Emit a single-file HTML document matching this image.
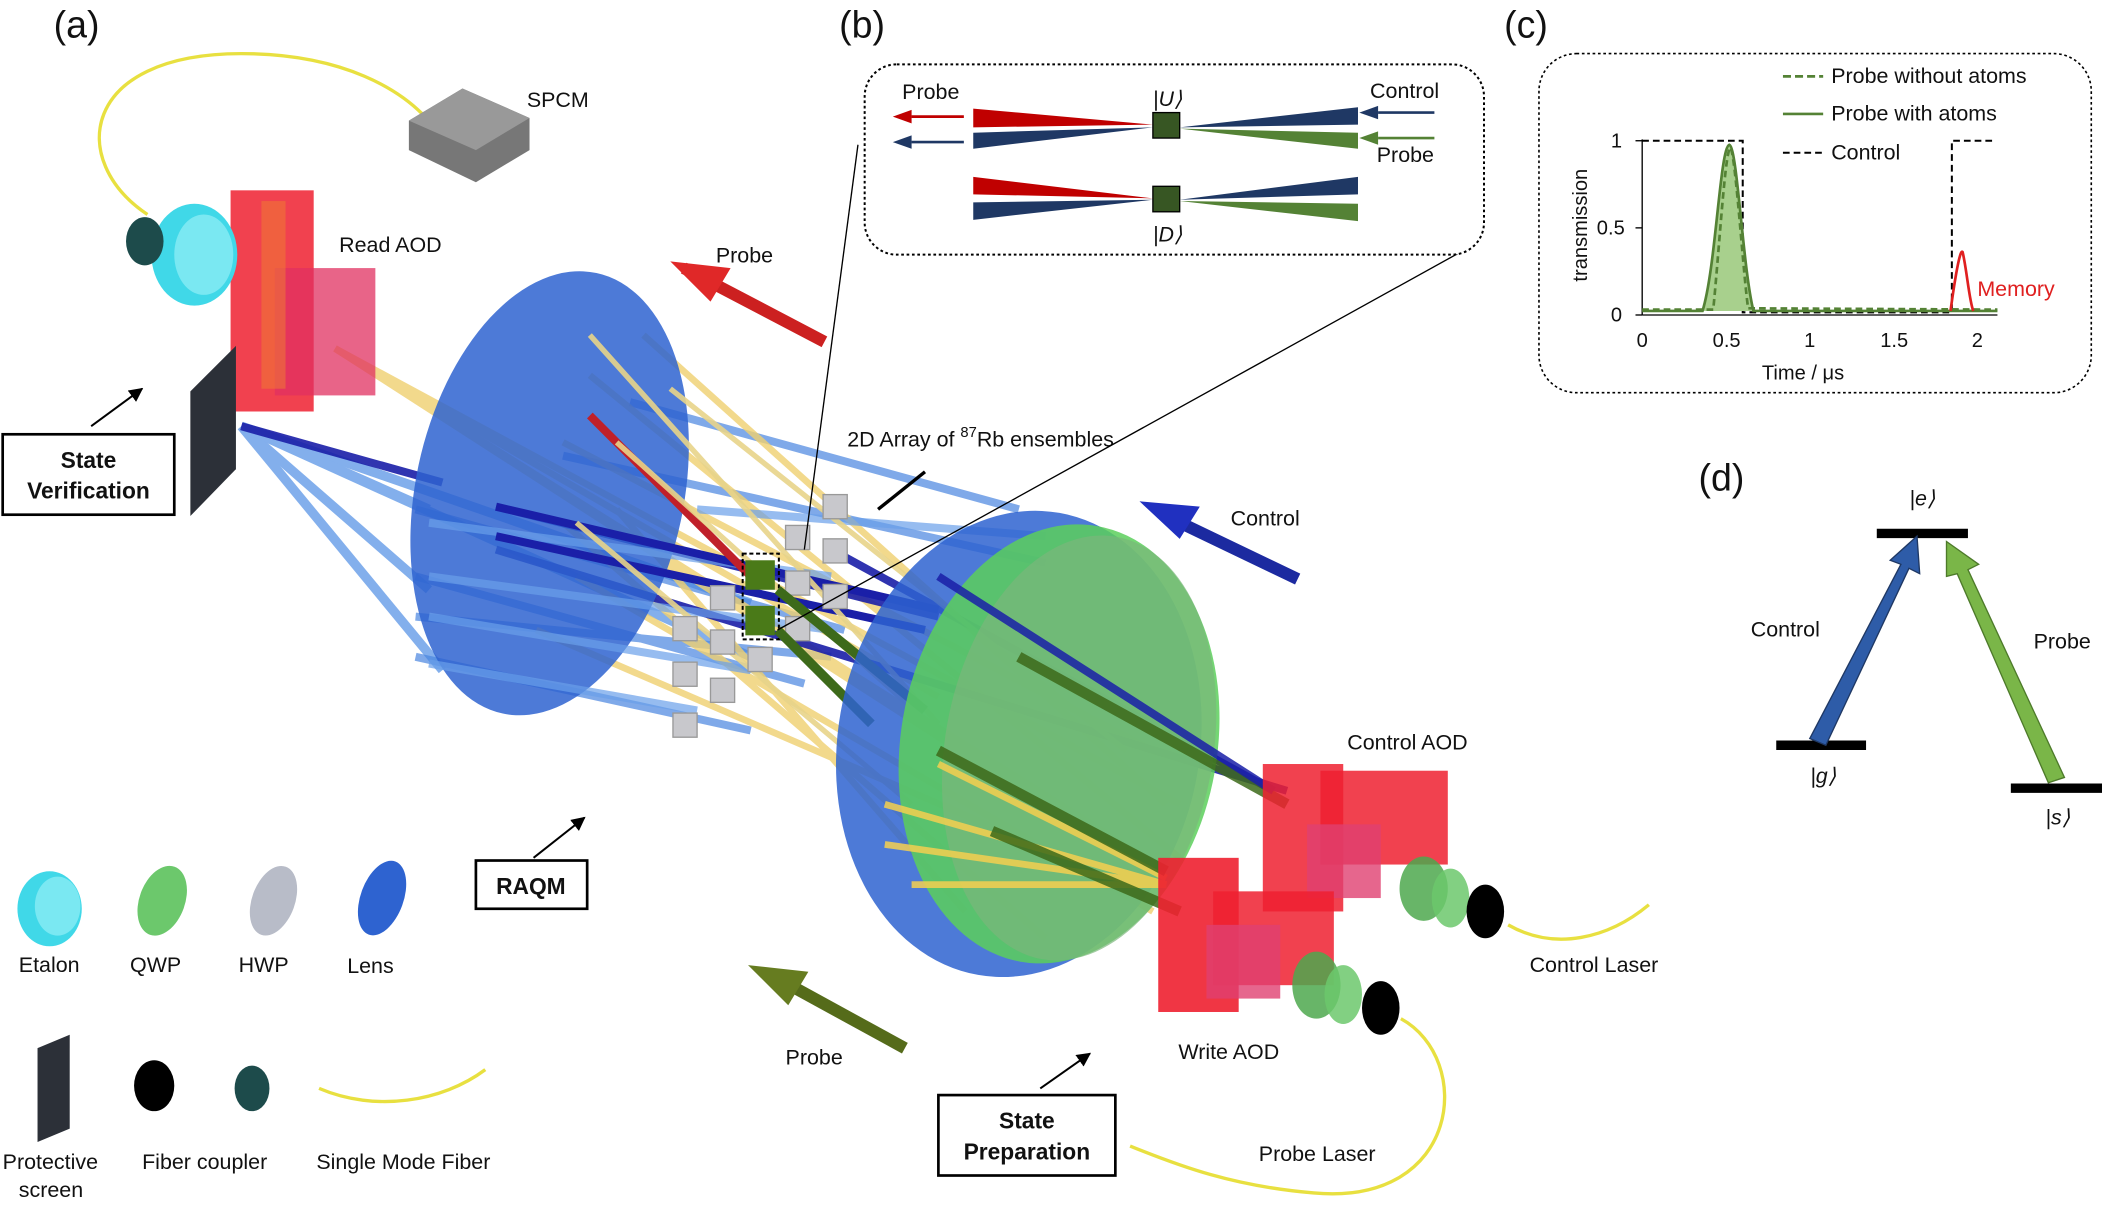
<!DOCTYPE html>
<html><head><meta charset="utf-8"><style>
html,body{margin:0;padding:0;background:#fff;}
svg{display:block;}
text{font-family:"Liberation Sans",sans-serif;fill:#111;}
</style></head><body>
<svg width="2102" height="1205" viewBox="0 0 1568 899" preserveAspectRatio="none" xmlns="http://www.w3.org/2000/svg">
<defs>
<marker id="ah" viewBox="0 0 10 10" refX="9" refY="5" markerWidth="7" markerHeight="7" orient="auto"><path d="M0,0L10,5L0,10z" fill="#000"/></marker>
</defs>
<rect width="1568" height="899" fill="#fff"/>
<!-- panel labels -->
<text x="40" y="28" font-size="28">(a)</text>
<text x="626" y="28" font-size="28">(b)</text>
<text x="1122" y="28" font-size="28">(c)</text>
<text x="1267" y="366" font-size="28">(d)</text>

<!-- fiber SPCM -->
<path d="M110,160 C50,120 60,40 180,40 C260,40 300,70 315,85" stroke="#e8e040" stroke-width="2.5" fill="none"/>
<polygon points="305,90 345,66 395,88 395,112 355,136 305,112" fill="#777"/>
<polygon points="305,90 345,66 395,88 355,112" fill="#999"/>
<text x="393" y="80" font-size="16">SPCM</text>

<!-- beams from screen -->
<g stroke="#5a95e6" stroke-width="7" opacity="0.75">
<line x1="180" y1="318" x2="560" y2="450"/><line x1="180" y1="318" x2="560" y2="490"/>
<line x1="180" y1="318" x2="330" y2="500"/><line x1="180" y1="318" x2="320" y2="440"/>
<line x1="180" y1="318" x2="320" y2="380"/>
</g>
<g stroke="#4a86e0" stroke-width="6" opacity="0.7">
<line x1="310" y1="380" x2="630" y2="470"/><line x1="310" y1="430" x2="600" y2="510"/>
<line x1="310" y1="490" x2="560" y2="545"/><line x1="310" y1="460" x2="620" y2="490"/>
<line x1="420" y1="340" x2="780" y2="420"/><line x1="470" y1="300" x2="760" y2="380"/>
</g>
<g stroke="#f0d070" stroke-width="5" opacity="0.8">
<line x1="250" y1="260" x2="870" y2="650"/><line x1="250" y1="260" x2="840" y2="640"/>
<line x1="250" y1="260" x2="880" y2="600"/><line x1="250" y1="260" x2="820" y2="620"/>
<line x1="250" y1="260" x2="700" y2="520"/><line x1="420" y1="390" x2="780" y2="700"/>
<line x1="430" y1="430" x2="860" y2="680"/><line x1="420" y1="330" x2="860" y2="560"/>
<line x1="440" y1="280" x2="880" y2="640"/><line x1="460" y1="380" x2="720" y2="680"/>
<line x1="480" y1="250" x2="870" y2="600"/><line x1="400" y1="470" x2="840" y2="660"/>
</g>
<!-- dark blue -->
<g stroke="#1a1fa8" stroke-width="6" opacity="0.9">
<line x1="180" y1="318" x2="330" y2="360"/>
<line x1="370" y1="378" x2="700" y2="460"/><line x1="370" y1="410" x2="960" y2="590"/>
<line x1="620" y1="410" x2="950" y2="590"/>
</g>
<!-- first lens -->
<ellipse cx="410" cy="368" rx="100" ry="168" transform="rotate(12 410 368)" fill="#2e63d0" opacity="0.85"/>
<!-- beams over lens -->
<g stroke="#6aa0ea" stroke-width="6" opacity="0.7">
<line x1="320" y1="390" x2="620" y2="430"/><line x1="320" y1="430" x2="620" y2="470"/>
<line x1="320" y1="460" x2="560" y2="500"/><line x1="320" y1="495" x2="520" y2="530"/>
<line x1="520" y1="380" x2="780" y2="400"/>
</g>
<g stroke="#1a1fa8" stroke-width="6"><line x1="370" y1="378" x2="700" y2="455"/><line x1="370" y1="400" x2="690" y2="470"/></g>
<line x1="440" y1="310" x2="560" y2="430" stroke="#c0202a" stroke-width="6"/>
<g stroke="#e8d48a" stroke-width="4" opacity="0.9">
<line x1="440" y1="250" x2="700" y2="540"/><line x1="460" y1="330" x2="760" y2="600"/>
<line x1="430" y1="390" x2="680" y2="600"/><line x1="500" y1="290" x2="840" y2="560"/>
</g>
<!-- array cubes -->
<g fill="#c8c8cc" stroke="#999" stroke-width="1">
<rect x="614" y="369" width="18" height="18"/><rect x="586" y="392" width="18" height="18"/><rect x="614" y="402" width="18" height="18"/>
<rect x="586" y="426" width="18" height="18"/><rect x="614" y="436" width="18" height="18"/>
<rect x="530" y="437" width="18" height="18"/><rect x="502" y="460" width="18" height="18"/>
<rect x="530" y="470" width="18" height="18"/><rect x="558" y="483" width="18" height="18"/>
<rect x="502" y="494" width="18" height="18"/><rect x="530" y="506" width="18" height="18"/>
<rect x="502" y="532" width="18" height="18"/><rect x="586" y="460" width="18" height="18"/>
</g>
<rect x="556" y="418" width="22" height="22" fill="#4a7a18"/>
<rect x="556" y="452" width="22" height="22" fill="#4a7a18"/>
<rect x="554" y="413" width="27" height="64" fill="none" stroke="#000" stroke-width="1.5" stroke-dasharray="3,2"/>
<g stroke="#3d6a1a" stroke-width="7"><line x1="580" y1="440" x2="690" y2="530"/><line x1="580" y1="470" x2="650" y2="540"/></g>
<line x1="655" y1="380" x2="690" y2="352" stroke="#000" stroke-width="2.5"/>
<text x="632" y="333" font-size="16">2D Array of <tspan font-size="11" dy="-7">87</tspan><tspan dy="7">Rb ensembles</tspan></text>

<!-- second lens -->
<ellipse cx="760" cy="555" rx="135" ry="175" transform="rotate(10 760 555)" fill="#2e63d0" opacity="0.85"/>
<ellipse cx="790" cy="555" rx="118" ry="165" transform="rotate(10 790 555)" fill="#5ccf5c" opacity="0.85"/>
<ellipse cx="805" cy="558" rx="100" ry="160" transform="rotate(10 805 558)" fill="#7ab77a" opacity="0.7"/>
<g stroke="#f5d050" stroke-width="5" opacity="0.85">
<line x1="660" y1="600" x2="870" y2="660"/><line x1="660" y1="630" x2="870" y2="660"/>
<line x1="680" y1="660" x2="870" y2="660"/><line x1="700" y1="570" x2="870" y2="655"/>
</g>
<g stroke="#3d6a1a" stroke-width="8" opacity="0.85"><line x1="700" y1="560" x2="870" y2="650"/><line x1="740" y1="620" x2="880" y2="680"/><line x1="760" y1="490" x2="960" y2="600"/></g>
<g stroke="#1a1fa8" stroke-width="6" opacity="0.85"><line x1="700" y1="430" x2="950" y2="590"/></g>

<!-- Read AOD -->
<rect x="172" y="142" width="62" height="165" fill="#ee2030" opacity="0.85"/>
<rect x="205" y="200" width="75" height="95" fill="#e03060" opacity="0.75"/>
<rect x="195" y="150" width="18" height="140" fill="#f08030" opacity="0.5"/>
<ellipse cx="145" cy="190" rx="32" ry="38" fill="#40d8e8"/>
<ellipse cx="152" cy="190" rx="22" ry="30" fill="#7ae8f2"/>
<ellipse cx="108" cy="180" rx="14" ry="18" fill="#1d4b4b"/>
<text x="253" y="188" font-size="16">Read AOD</text>
<!-- screen -->
<polygon points="142,292 176,258 176,350 142,385" fill="#2c3038"/>
<!-- Probe arrow top -->
<line x1="510" y1="200" x2="615" y2="255" stroke="#cc2020" stroke-width="9"/>
<polygon points="500,195 545,200 530,225" fill="#e02828"/>
<text x="534" y="196" font-size="16">Probe</text>
<!-- Control arrow -->
<line x1="870" y1="385" x2="968" y2="432" stroke="#1c2aa0" stroke-width="9"/>
<polygon points="850,374 895,378 880,402" fill="#2030c0"/>
<text x="918" y="392" font-size="16">Control</text>
<!-- Probe arrow bottom -->
<line x1="580" y1="730" x2="675" y2="782" stroke="#556b1a" stroke-width="9"/>
<polygon points="558,720 603,725 588,750" fill="#667c20"/>
<text x="586" y="794" font-size="16">Probe</text>

<!-- Control AOD / Write AOD -->
<rect x="942" y="570" width="60" height="110" fill="#ee2030" opacity="0.85"/>
<rect x="985" y="575" width="95" height="70" fill="#ee2030" opacity="0.85"/>
<rect x="975" y="615" width="55" height="55" fill="#e04070" opacity="0.8"/>
<rect x="864" y="640" width="60" height="115" fill="#ee2030" opacity="0.9"/>
<rect x="905" y="665" width="90" height="70" fill="#ee2030" opacity="0.85"/>
<rect x="900" y="690" width="55" height="55" fill="#e04070" opacity="0.8"/>
<ellipse cx="1062" cy="663" rx="18" ry="24" fill="#4da84d" opacity="0.85"/>
<ellipse cx="1082" cy="670" rx="14" ry="22" fill="#6cc86c" opacity="0.85"/>
<ellipse cx="1108" cy="680" rx="14" ry="20" fill="#000"/>
<ellipse cx="982" cy="735" rx="18" ry="25" fill="#4da84d" opacity="0.85"/>
<ellipse cx="1002" cy="742" rx="14" ry="22" fill="#6cc86c" opacity="0.85"/>
<ellipse cx="1030" cy="752" rx="14" ry="20" fill="#000"/>
<path d="M1125,690 C1160,710 1200,700 1230,675" stroke="#e8e040" stroke-width="2.5" fill="none"/>
<path d="M1045,760 C1100,790 1090,900 980,890 C920,885 880,870 843,855" stroke="#e8e040" stroke-width="2.5" fill="none"/>
<text x="1005" y="559" font-size="16">Control AOD</text>
<text x="1141" y="725" font-size="16">Control Laser</text>
<text x="879" y="790" font-size="16">Write AOD</text>
<text x="939" y="866" font-size="16">Probe Laser</text>

<!-- boxes -->
<rect x="2" y="324" width="128" height="60" fill="#fff" stroke="#000" stroke-width="2"/>
<text x="66" y="349" font-size="17" font-weight="bold" text-anchor="middle">State</text>
<text x="66" y="372" font-size="17" font-weight="bold" text-anchor="middle">Verification</text>
<line x1="68" y1="318" x2="106" y2="290" stroke="#000" stroke-width="1.5" marker-end="url(#ah)"/>
<rect x="355" y="642" width="83" height="36" fill="#fff" stroke="#000" stroke-width="2"/>
<text x="396" y="667" font-size="17" font-weight="bold" text-anchor="middle">RAQM</text>
<line x1="398" y1="640" x2="436" y2="610" stroke="#000" stroke-width="1.5" marker-end="url(#ah)"/>
<rect x="700" y="817" width="132" height="60" fill="#fff" stroke="#000" stroke-width="2"/>
<text x="766" y="842" font-size="17" font-weight="bold" text-anchor="middle">State</text>
<text x="766" y="865" font-size="17" font-weight="bold" text-anchor="middle">Preparation</text>
<line x1="776" y1="812" x2="813" y2="786" stroke="#000" stroke-width="1.5" marker-end="url(#ah)"/>

<!-- legend -->
<ellipse cx="37" cy="678" rx="24" ry="28" fill="#40d8e8"/><ellipse cx="43" cy="676" rx="17" ry="22" fill="#7ae8f2"/>
<ellipse cx="121" cy="672" rx="17" ry="27" transform="rotate(20 121 672)" fill="#6cc86c"/>
<ellipse cx="204" cy="672" rx="16" ry="27" transform="rotate(20 204 672)" fill="#b8bcc8"/>
<ellipse cx="285" cy="670" rx="16" ry="29" transform="rotate(20 285 670)" fill="#2e63d0"/>
<text x="14" y="725" font-size="16">Etalon</text><text x="97" y="725" font-size="16">QWP</text>
<text x="178" y="725" font-size="16">HWP</text><text x="259" y="726" font-size="16">Lens</text>
<polygon points="28,782 52,772 52,842 28,852" fill="#2c3038"/>
<ellipse cx="115" cy="810" rx="15" ry="19" fill="#000"/>
<ellipse cx="188" cy="812" rx="13" ry="17" fill="#1d4b4b"/>
<path d="M238,812 C280,830 330,822 362,798" stroke="#e8e040" stroke-width="2.5" fill="none"/>
<text x="2" y="872" font-size="16">Protective</text><text x="14" y="893" font-size="16">screen</text>
<text x="106" y="872" font-size="16">Fiber coupler</text><text x="236" y="872" font-size="16">Single Mode Fiber</text>

<!-- panel b -->
<line x1="640" y1="108" x2="600" y2="410" stroke="#000" stroke-width="1"/>
<line x1="1095" y1="185" x2="580" y2="470" stroke="#000" stroke-width="1"/>
<rect x="645" y="48" width="462" height="142" rx="24" fill="#fff" stroke="#000" stroke-width="1.5" stroke-dasharray="2,2"/>
<text x="673" y="74" font-size="16">Probe</text><text x="1022" y="73" font-size="16">Control</text><text x="1027" y="121" font-size="16">Probe</text>
<text x="860" y="79" font-size="16" font-family="Liberation Serif" font-style="italic">|U⟩</text>
<text x="860" y="180" font-size="16" font-family="Liberation Serif" font-style="italic">|D⟩</text>
<g>
<polygon points="726,81 726,95 860,93" fill="#c00000"/><polygon points="726,99 726,111 860,95" fill="#1f3864"/>
<polygon points="1013,80 1013,93 880,95" fill="#1f3864"/><polygon points="1013,99 1013,111 880,96" fill="#548235"/>
<rect x="860" y="84" width="20" height="19" fill="#375623" stroke="#000"/>
<polygon points="726,132 726,145 860,148" fill="#c00000"/><polygon points="726,151 726,164 860,149" fill="#1f3864"/>
<polygon points="1013,132 1013,145 880,149" fill="#1f3864"/><polygon points="1013,152 1013,165 880,150" fill="#548235"/>
<rect x="860" y="139" width="20" height="19" fill="#375623" stroke="#000"/>
<line x1="680" y1="87" x2="719" y2="87" stroke="#c00000" stroke-width="2"/><polygon points="666,87 680,82 680,92" fill="#c00000"/>
<line x1="680" y1="106" x2="719" y2="106" stroke="#1f3864" stroke-width="2"/><polygon points="666,106 680,101 680,111" fill="#1f3864"/>
<line x1="1028" y1="84" x2="1070" y2="84" stroke="#1f3864" stroke-width="2"/><polygon points="1014,84 1028,79 1028,89" fill="#1f3864"/>
<line x1="1028" y1="103" x2="1070" y2="103" stroke="#548235" stroke-width="2"/><polygon points="1014,103 1028,98 1028,108" fill="#548235"/>
</g>

<!-- panel c -->
<rect x="1148" y="40" width="412" height="253" rx="28" fill="#fff" stroke="#000" stroke-width="1.2" stroke-dasharray="2,2"/>
<line x1="1225" y1="104" x2="1225" y2="235" stroke="#000"/><line x1="1225" y1="235" x2="1490" y2="235" stroke="#000"/>
<g stroke="#000"><line x1="1220" y1="105" x2="1225" y2="105"/><line x1="1220" y1="170" x2="1225" y2="170"/><line x1="1220" y1="235" x2="1225" y2="235"/></g>
<text x="1210" y="110" font-size="15" text-anchor="end">1</text><text x="1212" y="175" font-size="15" text-anchor="end">0.5</text><text x="1210" y="240" font-size="15" text-anchor="end">0</text>
<text x="1225" y="259" font-size="15" text-anchor="middle">0</text><text x="1288" y="259" font-size="15" text-anchor="middle">0.5</text>
<text x="1350" y="259" font-size="15" text-anchor="middle">1</text><text x="1413" y="259" font-size="15" text-anchor="middle">1.5</text><text x="1475" y="259" font-size="15" text-anchor="middle">2</text>
<text x="1345" y="283" font-size="15" text-anchor="middle">Time / μs</text>
<text transform="translate(1184,168) rotate(-90)" font-size="15" text-anchor="middle">transmission</text>
<path d="M1225,105 L1300,105 L1300,233 L1456,233 L1456,105 L1486,105" stroke="#000" stroke-width="1.5" fill="none" stroke-dasharray="5,3"/>
<path d="M1225,232 L1270,232 C1280,200 1283,110 1290,108 C1296,110 1300,200 1308,232 L1490,232" stroke="#548235" stroke-width="2" fill="#a8d08d"/>
<path d="M1225,231 L1278,231 C1283,180 1287,110 1291,110 C1295,120 1300,200 1304,230 L1490,231" stroke="#548235" stroke-width="2" fill="none" stroke-dasharray="5,3"/>
<path d="M1455,232 C1458,210 1462,185 1464,188 C1467,200 1469,225 1472,232" stroke="#e02020" stroke-width="2" fill="none"/>
<text x="1475" y="221" font-size="16" fill="#e02020" style="fill:#e02020">Memory</text>
<line x1="1330" y1="57" x2="1360" y2="57" stroke="#548235" stroke-width="2" stroke-dasharray="6,3"/><text x="1366" y="62" font-size="16">Probe without atoms</text>
<line x1="1330" y1="85" x2="1360" y2="85" stroke="#548235" stroke-width="2"/><text x="1366" y="90" font-size="16">Probe with atoms</text>
<line x1="1330" y1="114" x2="1360" y2="114" stroke="#000" stroke-width="1.5" stroke-dasharray="5,3"/><text x="1366" y="119" font-size="16">Control</text>

<!-- panel d -->
<line x1="1400" y1="398" x2="1468" y2="398" stroke="#000" stroke-width="7"/>
<line x1="1325" y1="556" x2="1392" y2="556" stroke="#000" stroke-width="7"/>
<line x1="1500" y1="588" x2="1568" y2="588" stroke="#000" stroke-width="7"/>
<text x="1434" y="377" font-size="16" text-anchor="middle" font-family="Liberation Serif" font-style="italic">|e⟩</text>
<text x="1360" y="584" font-size="16" text-anchor="middle" font-family="Liberation Serif" font-style="italic">|g⟩</text>
<text x="1535" y="615" font-size="16" text-anchor="middle" font-family="Liberation Serif" font-style="italic">|s⟩</text>
<polygon points="1350,551 1362,556 1424,424 1432,428 1430,400 1410,418 1418,421" fill="#2e5ca8" stroke="#1f3864" stroke-width="1"/>
<polygon points="1528,584 1540,580 1468,425 1476,421 1452,404 1452,430 1460,428" fill="#7ab648" stroke="#4d7a2a" stroke-width="1"/>
<text x="1306" y="475" font-size="16">Control</text>
<text x="1517" y="484" font-size="16">Probe</text>
</svg>
</body></html>
